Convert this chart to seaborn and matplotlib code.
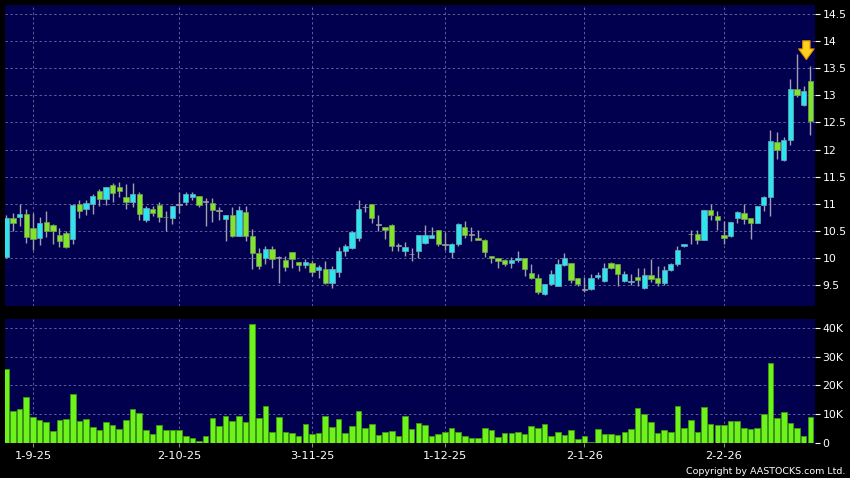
import numpy as np
import pandas as pd
import matplotlib
matplotlib.use("Agg")
import matplotlib.pyplot as plt
import seaborn as sns

# ---------------- data ----------------
opens = [10.01, 10.73, 10.75, 10.81, 10.56, 10.36, 10.67, 10.61, 10.42, 10.46,
         10.35, 10.99, 10.90, 11.00, 11.23, 11.09, 11.35, 11.30, 11.12, 11.04,
         11.18, 10.70, 10.91, 10.98, 10.76, 10.73, 10.99, 11.03, 11.12, 11.14,
         11.04, 11.01, 10.87, 10.72, 10.79, 10.41, 10.85, 10.41, 10.09, 9.99,
         10.16, 10.00, 9.96, 10.10, 9.93, 9.87, 9.90, 9.77, 9.80, 9.53,
         9.74, 10.12, 10.19, 10.36, 10.94, 10.99, 10.62, 10.57, 10.60, 10.23,
         10.12, 10.07, 10.13, 10.28, 10.36, 10.51, 10.25, 10.10, 10.25, 10.57,
         10.43, 10.36, 10.33, 10.04, 9.99, 9.96, 9.91, 9.96, 10.00, 9.72,
         9.62, 9.34, 9.51, 9.48, 9.87, 9.90, 9.62, 9.42, 9.42, 9.64,
         9.57, 9.91, 9.88, 9.57, 9.56, 9.65, 9.44, 9.68, 9.62, 9.53,
         9.77, 9.88, 10.22, 10.44, 10.44, 10.33, 10.88, 10.78, 10.42, 10.40,
         10.74, 10.82, 10.73, 10.64, 10.98, 11.13, 12.14, 11.81, 12.17, 13.11,
         12.83, 13.27]
highs = [10.79, 10.82, 11.00, 10.91, 10.83, 10.76, 10.87, 10.62, 10.56, 10.50,
         11.00, 11.06, 11.07, 11.18, 11.27, 11.31, 11.38, 11.40, 11.36, 11.38,
         11.21, 10.95, 10.96, 11.03, 10.87, 10.96, 11.22, 11.22, 11.22, 11.15,
         11.10, 11.10, 10.93, 10.79, 10.93, 10.96, 10.96, 10.54, 10.19, 10.21,
         10.22, 10.04, 10.04, 10.10, 9.93, 9.97, 9.95, 9.87, 9.95, 9.85,
         10.20, 10.25, 10.50, 11.07, 10.99, 10.99, 10.80, 10.57, 10.62, 10.28,
         10.30, 10.19, 10.43, 10.61, 10.57, 10.51, 10.47, 10.28, 10.65, 10.68,
         10.57, 10.51, 10.35, 10.04, 9.99, 9.97, 10.01, 10.13, 10.00, 9.88,
         9.70, 9.52, 9.77, 9.98, 10.08, 9.90, 9.62, 9.64, 9.71, 9.73,
         9.91, 9.93, 9.88, 9.76, 9.71, 9.81, 9.81, 9.97, 9.85, 9.85,
         9.91, 10.22, 10.26, 10.51, 10.51, 10.88, 11.00, 10.87, 10.68, 10.67,
         10.87, 11.00, 10.73, 10.96, 11.15, 12.36, 12.32, 12.23, 13.31, 13.76,
         13.17, 13.54]
lows = [10.00, 10.50, 10.59, 10.28, 10.15, 10.24, 10.39, 10.26, 10.20, 10.18,
        10.25, 10.73, 10.79, 10.81, 10.96, 10.97, 11.04, 11.12, 10.90, 10.93,
        10.69, 10.66, 10.78, 10.66, 10.50, 10.62, 10.83, 10.98, 11.06, 10.93,
        10.59, 10.67, 10.69, 10.31, 10.39, 10.40, 10.31, 9.80, 9.80, 9.88,
        9.82, 9.54, 9.76, 9.81, 9.76, 9.82, 9.67, 9.62, 9.51, 9.44,
        9.64, 10.04, 10.16, 10.31, 10.84, 10.65, 10.49, 10.35, 10.13, 10.13,
        10.04, 9.94, 9.99, 10.26, 10.36, 10.22, 10.14, 10.00, 10.22, 10.36,
        10.31, 10.33, 10.02, 9.90, 9.82, 9.85, 9.82, 9.93, 9.67, 9.60,
        9.33, 9.32, 9.50, 9.48, 9.85, 9.54, 9.48, 9.36, 9.40, 9.60,
        9.55, 9.79, 9.48, 9.55, 9.50, 9.48, 9.42, 9.55, 9.48, 9.50,
        9.75, 9.84, 10.20, 10.25, 10.25, 10.33, 10.70, 10.51, 10.25, 10.38,
        10.65, 10.62, 10.35, 10.64, 10.87, 10.78, 11.83, 11.78, 12.08, 12.97,
        12.80, 12.26]
closes = [10.73, 10.65, 10.81, 10.39, 10.34, 10.65, 10.50, 10.50, 10.31, 10.20,
          10.97, 10.86, 11.01, 11.14, 11.09, 11.30, 11.19, 11.23, 11.04, 11.17,
          10.81, 10.92, 10.83, 10.75, 10.75, 10.95, 10.99, 11.18, 11.18, 10.98,
          11.04, 10.88, 10.87, 10.79, 10.41, 10.89, 10.41, 10.09, 9.84, 10.16,
          9.98, 10.00, 9.83, 9.98, 9.87, 9.93, 9.73, 9.83, 9.53, 9.80,
          10.12, 10.21, 10.47, 10.91, 10.94, 10.73, 10.62, 10.51, 10.22, 10.23,
          10.20, 10.07, 10.43, 10.43, 10.43, 10.25, 10.25, 10.25, 10.62, 10.43,
          10.43, 10.33, 10.10, 9.99, 9.94, 9.88, 9.96, 10.00, 9.79, 9.62,
          9.36, 9.51, 9.70, 9.88, 9.99, 9.59, 9.52, 9.42, 9.62, 9.68,
          9.81, 9.81, 9.70, 9.70, 9.58, 9.59, 9.68, 9.60, 9.54, 9.77,
          9.88, 10.14, 10.25, 10.44, 10.33, 10.88, 10.79, 10.70, 10.36, 10.67,
          10.84, 10.72, 10.64, 10.96, 11.13, 12.15, 11.99, 12.17, 13.12, 13.00,
          13.09, 12.53]
volumes_k = [25.7, 11.2, 11.8, 16.1, 9.0, 7.9, 7.4, 4.1, 8.1, 8.3,
             17.2, 7.8, 8.3, 5.4, 4.6, 7.2, 6.4, 5.0, 7.9, 11.9,
             10.6, 4.6, 3.1, 6.4, 4.4, 4.6, 4.6, 2.6, 1.6, 0.8,
             2.6, 8.7, 5.9, 9.3, 7.8, 9.5, 7.3, 41.2, 8.6, 12.8,
             3.8, 9.2, 3.7, 3.5, 2.6, 6.7, 3.2, 3.6, 9.3, 5.6,
             8.3, 3.5, 6.0, 11.0, 5.2, 6.7, 2.9, 3.7, 4.1, 2.3,
             9.3, 5.0, 7.0, 6.4, 2.3, 3.1, 3.9, 5.3, 3.8, 2.6,
             1.7, 1.9, 5.1, 4.6, 2.2, 3.4, 3.5, 3.9, 3.1, 6.0,
             5.2, 6.6, 2.3, 3.8, 2.7, 4.4, 1.3, 2.4, 0.5, 4.8,
             3.0, 3.2, 2.8, 3.9, 5.0, 12.1, 10.0, 7.2, 3.5, 4.5,
             3.9, 13.0, 5.1, 7.9, 3.7, 12.6, 6.7, 6.1, 6.4, 7.5,
             7.5, 5.3, 5.0, 5.1, 10.1, 27.8, 8.6, 10.8, 7.1, 5.2,
             2.4, 9.0]
date_labels = ["1-9-25", "2-10-25", "3-11-25", "1-12-25", "2-1-26", "2-2-26"]
date_bar_index = [4, 26, 46, 66, 87, 108]
price_ticks = [9.5, 10, 10.5, 11, 11.5, 12, 12.5, 13, 13.5, 14, 14.5]
volume_ticks_k = [0, 10, 20, 30, 40]

# ---------------- styling ----------------
BG = "#000000"
PANEL = "#00004F"
GRID = "#5E5E96"
UP = "#2EE4EE"
DOWN = "#80E42C"
DOJI = "#9C9CA8"
WICK = "#A0A0AC"
VOL = "#6DF21B"
VOL_EDGE = "#3E9A12"
TXT = "#FFFFFF"

sns.set_theme(style="dark")
plt.rcParams["font.family"] = ["DejaVu Sans"]

df = pd.DataFrame({"i": np.arange(len(opens)), "open": opens, "high": highs,
                   "low": lows, "close": closes, "vol": volumes_k})

fig = plt.figure(figsize=(8.5, 4.78), dpi=100, facecolor=BG)
W, H = 850, 478
axp = fig.add_axes([5 / W, 1 - 306 / H, 810 / W, 301 / H])
axv = fig.add_axes([5 / W, 1 - 443 / H, 810 / W, 124 / H], sharex=axp)

for ax in (axp, axv):
    ax.set_facecolor(PANEL)
    for s in ax.spines.values():
        s.set_visible(False)
    ax.yaxis.tick_right()
    ax.tick_params(axis="y", colors=TXT, labelsize=7.8, length=3.5, width=0.8,
                   pad=2, direction="out", right=True, left=False, labelright=True,
                   labelleft=False)
    ax.grid(True, color=GRID, linestyle=(0, (2.5, 2.5)), linewidth=0.7)
    ax.set_axisbelow(True)

# ---------------- candles ----------------
up = df["close"] > df["open"] + 0.004
down = df["close"] < df["open"] - 0.004
doji = ~(up | down)
body_lo = np.minimum(df["open"], df["close"])
body_h = np.abs(df["close"] - df["open"])

axp.vlines(df["i"], df["low"], df["high"], color=WICK, linewidth=1.0, zorder=2)
axp.bar(df["i"][up], body_h[up], bottom=body_lo[up], width=0.8, color=UP,
        edgecolor="#6FA9B8", linewidth=0.5, zorder=3)
axp.bar(df["i"][down], body_h[down], bottom=body_lo[down], width=0.8, color=DOWN,
        edgecolor="#7A9A5A", linewidth=0.5, zorder=3)
axp.bar(df["i"][doji], 0.012, bottom=body_lo[doji] - 0.006, width=0.8, color=DOJI,
        edgecolor=DOJI, linewidth=0.5, zorder=3)

last = df.iloc[-1]
axp.annotate("", xy=(last["i"] - 0.6, last["high"] + 0.07),
             xytext=(last["i"] - 0.6, last["high"] + 0.52),
             arrowprops=dict(arrowstyle="simple,head_length=0.55,head_width=0.8,tail_width=0.38",
                             fc="#FFD21E", ec="#E08A00", lw=0.8, mutation_scale=14),
             zorder=5)

axp.set_ylim(9.11, 14.67)
axp.set_yticks(price_ticks)
axp.set_yticklabels([f"{t:g}" for t in price_ticks])
axp.tick_params(axis="x", bottom=False, labelbottom=False)

# ---------------- volume ----------------
sns.barplot(data=df, x="i", y="vol", native_scale=True, color=VOL, saturation=1,
            edgecolor=VOL_EDGE, linewidth=0.6, width=0.84, errorbar=None, ax=axv)
axv.set_ylim(0, 43.1)
axv.set_yticks(volume_ticks_k)
axv.set_yticklabels(["0" if t == 0 else f"{t}K" for t in volume_ticks_k])
axv.set_xlabel("")
axv.set_ylabel("")
axv.set_xticks(date_bar_index)
axv.set_xticklabels(date_labels)
axv.tick_params(axis="x", colors=TXT, labelsize=8.2, length=3, width=0.8,
                direction="out", bottom=True, pad=3)
axv.tick_params(axis="x", which="both", color="#888888")
axv.set_xlim(-0.2, 121.7)
axp.set_xlim(-0.2, 121.7)

fig.text(845 / W, 1 - 471 / H, "Copyright by AASTOCKS.com Ltd.", color=TXT,
         fontsize=6.8, ha="right", va="center")

fig.savefig("out.png", dpi=100, facecolor=BG)
